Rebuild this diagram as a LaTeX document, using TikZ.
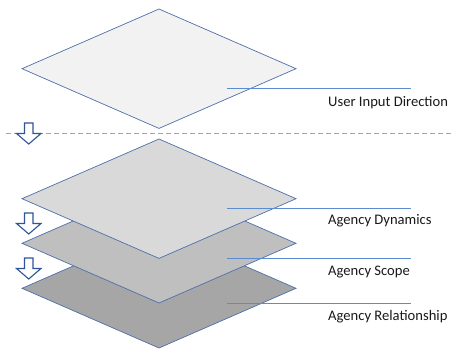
\documentclass[tikz,border=0pt]{standalone}
\usepackage{fontspec}
\setmainfont{Carlito}
\begin{document}
\begin{tikzpicture}[x=1pt,y=-1pt,
  layer/.style={draw=edgeblue, line width=0.7pt, line join=miter},
  leader/.style={draw=leadblue, line width=0.8pt},
  lbl/.style={anchor=west, inner sep=0pt, font=\fontsize{14.6}{17}\selectfont, text=black!90},
  downarrow/.style={draw=arrowblue, fill=white, line width=1.1pt, line join=miter},
  sep/.style={draw=dashblue, line width=0.8pt, dash pattern=on 5pt off 3pt}]
\definecolor{edgeblue}{HTML}{4F6FA8}
\definecolor{leadblue}{HTML}{5B8BD0}
\definecolor{arrowblue}{HTML}{2F5597}
\definecolor{dashblue}{HTML}{8EA9CC}
\useasboundingbox (0,0) rectangle (452,350);
% layers, bottom first
\foreach \cy/\col in {288.3/A6A6A6, 243.3/BFBFBF, 198.7/D9D9D9, 68.7/F2F2F2}{
  \definecolor{lc}{HTML}{\col}
  \path[layer, fill=lc] (159,\cy-59.7) -- (296,\cy) -- (159,\cy+59.7) -- (22,\cy) -- cycle;
}
% separator
\coordinate (sa) at (6,133.7);
\coordinate (sb) at (452,133.7);
\draw[sep] (sa) -- (sb);
% labels and leaders
\node[lbl] (t1) at (328,102.5) {User Input Direction};
\node[lbl] (t2) at (328,221) {Agency Dynamics};
\node[lbl] (t3) at (328,271.7) {Agency Scope};
\node[lbl] (t4) at (328,316.7) {Agency Relationship};
\coordinate (a1) at (227,88.3);   \coordinate (b1) at (411,88.3);
\coordinate (a2) at (227,208.3);  \coordinate (b2) at (411,208.3);
\coordinate (a3) at (227,258.3);  \coordinate (b3) at (411,258.3);
\coordinate (a4) at (227,303.3);  \coordinate (b4) at (411,303.3);
\foreach \i in {1,2,3,4}{ \draw[leader] (a\i) -- (b\i); }
% hollow down arrows
\foreach \ty in {123,213,258}{
  \path[downarrow] (24.5,\ty) -- (33,\ty) -- (33,\ty+10.5) -- (41,\ty+10.5)
    -- (28.75,\ty+21) -- (16.5,\ty+10.5) -- (24.5,\ty+10.5) -- cycle;
}
\end{tikzpicture}
\end{document}
